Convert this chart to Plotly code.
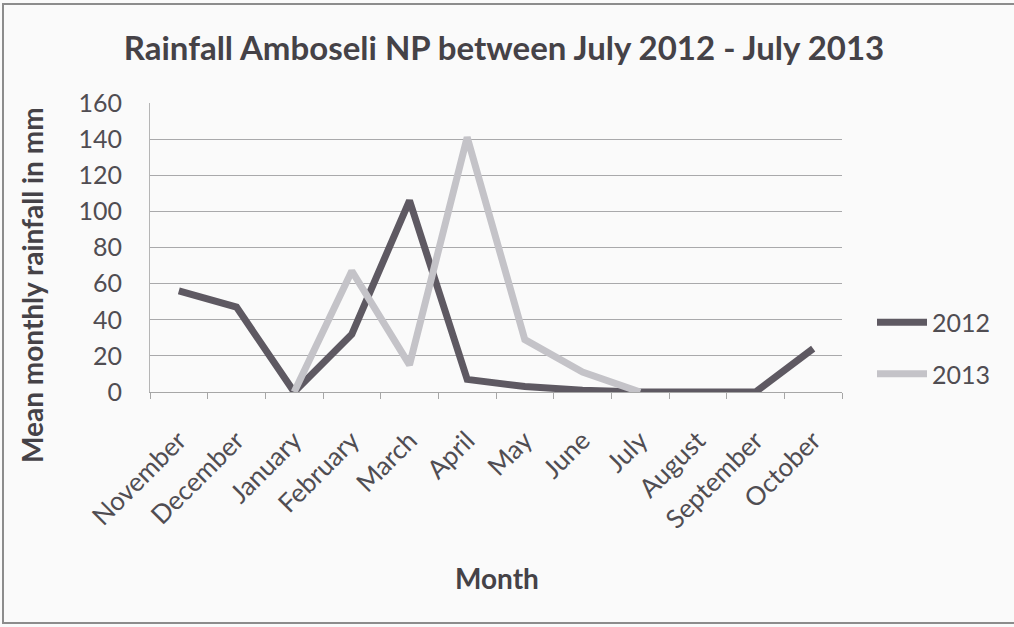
import plotly.graph_objects as go

months = ["November", "December", "January", "February", "March", "April",
          "May", "June", "July", "August", "September", "October"]
rain_2012 = [56, 47, 0, 32, 106, 7, 3, 1, 0, 0, 0, 24]
rain_2013 = [None, None, 0, 67, 15, 141, 29, 11, 0, None, None, None]

W, H = 1014, 627
L, R, T, B = 150, 172, 103, 235
pw, ph = W - L - R, H - T - B

def px(x):
    return (x - L) / pw

def py(y):
    return (H - B - y) / ph

FONT = "Lato"
TXT = "#504d52"

fig = go.Figure()
fig.add_trace(go.Scatter(x=months, y=rain_2012, mode="lines", name="2012",
                         legendgroup="a",
                         line=dict(color="#5e5962", width=7)))
fig.add_trace(go.Scatter(x=months, y=rain_2013, mode="lines", name="2013",
                         legendgroup="b",
                         line=dict(color="#c4c3c8", width=7)))

fig.update_layout(
    width=W, height=H,
    margin=dict(l=L, r=R, t=T, b=B),
    paper_bgcolor="#fafafa",
    plot_bgcolor="#fafafa",
    font=dict(family=FONT, color=TXT),
    title=dict(text="<b>Rainfall Amboseli NP between July 2012 - July 2013</b>",
               x=504 / W, xanchor="center", xref="container",
               y=1 - 48 / H, yanchor="middle", yref="container",
               font=dict(size=33, family=FONT, color="#454247")),
    showlegend=True,
    legend=dict(x=px(872), y=py(348), xanchor="left", yanchor="middle",
                bgcolor="rgba(0,0,0,0)", traceorder="grouped",
                tracegroupgap=16, itemwidth=50,
                font=dict(size=25, family=FONT, color=TXT)),
    xaxis=dict(type="category", range=[-0.5, 11.5], showgrid=False, showline=True,
               linecolor="#a6a6a6", linewidth=1,
               ticks="outside", tickson="boundaries", ticklen=6,
               tickcolor="#a6a6a6", tickangle=-45, ticklabelstandoff=22,
               tickfont=dict(size=26, family=FONT, color=TXT)),
    yaxis=dict(range=[0, 160], dtick=20, showgrid=True,
               gridcolor="#a9a9ab", gridwidth=1,
               showline=True, linecolor="#b5b5b5", linewidth=1,
               ticks="", zeroline=False, ticklabelstandoff=22,
               tickfont=dict(size=25, family=FONT, color=TXT)),
    annotations=[
        dict(text="<b>Mean monthly rainfall in mm</b>", xref="paper", yref="paper",
             x=px(32), y=py(285), xanchor="center", yanchor="middle",
             textangle=-90, showarrow=False,
             font=dict(size=28, family=FONT, color="#454247")),
        dict(text="<b>Month</b>", xref="paper", yref="paper",
             x=px(497), y=py(578), xanchor="center", yanchor="middle",
             showarrow=False,
             font=dict(size=28, family=FONT, color="#454247")),
    ],
    shapes=[
        dict(type="rect", xref="paper", yref="paper",
             x0=px(3), x1=px(1030), y0=py(623), y1=py(4),
             line=dict(color="#8c8c8c", width=2), fillcolor="rgba(0,0,0,0)",
             layer="below"),
    ],
)

fig.write_html("out.html")
